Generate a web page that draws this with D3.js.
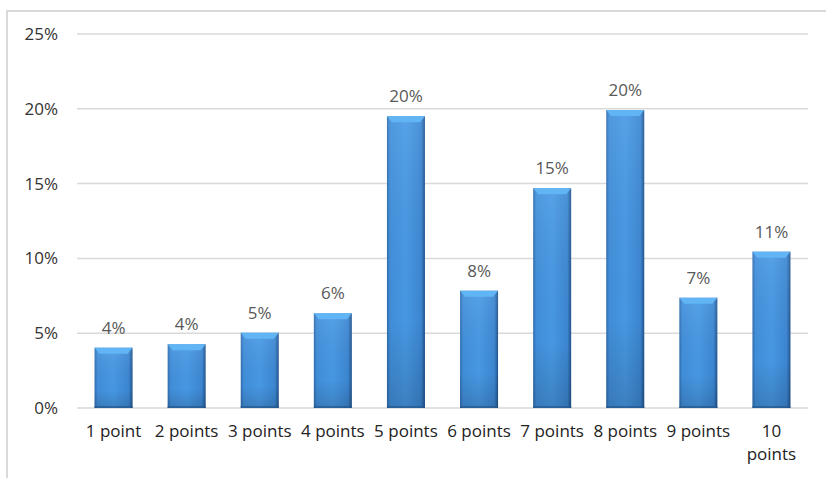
<!DOCTYPE html>
<html>
<head>
<meta charset="utf-8">
<script src="https://cdn.jsdelivr.net/npm/d3@7"></script>
<style>
  body { margin: 0; background: #fff; }
  svg { display: block; font-family: "Open Sans", sans-serif; }
</style>
</head>
<body>
<div class="barChart"></div>
<script>
var categories = ["1 point", "2 points", "3 points", "4 points", "5 points",
  "6 points", "7 points", "8 points", "9 points", "10 points"];
var values = [4.03, 4.26, 5.03, 6.33, 19.5, 7.84, 14.69, 19.92, 7.37, 10.45];
var labels = ["4%", "4%", "5%", "6%", "20%", "8%", "15%", "20%", "7%", "11%"];
var yTicks = [0, 5, 10, 15, 20, 25];

function init() {
  var w = 826;
  var h = 478;
  var left = 77, right = 808, top = 34, bottom = 408;

  var svg = d3.select(".barChart")
    .append("svg")
    .attr("width", w)
    .attr("height", h);

  // gradients for the bevelled bars
  var defs = svg.append("defs");
  var body = defs.append("linearGradient")
    .attr("id", "barBody")
    .attr("x1", 0).attr("y1", 0).attr("x2", 1).attr("y2", 0);
  body.append("stop").attr("offset", "0%").attr("stop-color", "#2f6db0");
  body.append("stop").attr("offset", "8%").attr("stop-color", "#4290dc");
  body.append("stop").attr("offset", "50%").attr("stop-color", "#489ae6");
  body.append("stop").attr("offset", "90%").attr("stop-color", "#3d88d4");
  body.append("stop").attr("offset", "100%").attr("stop-color", "#22558f");

  var shade = defs.append("linearGradient")
    .attr("id", "barShade")
    .attr("x1", 0).attr("y1", 0).attr("x2", 0).attr("y2", 1);
  shade.append("stop").attr("offset", "0%").attr("stop-color", "#ffffff").attr("stop-opacity", 0.08);
  shade.append("stop").attr("offset", "70%").attr("stop-color", "#000000").attr("stop-opacity", 0.02);
  shade.append("stop").attr("offset", "100%").attr("stop-color", "#000000").attr("stop-opacity", 0.16);

  // chart frame (only top and left edges fall inside the window)
  svg.append("rect")
    .attr("x", 7)
    .attr("y", 11)
    .attr("width", w + 20)
    .attr("height", h + 20)
    .attr("fill", "none")
    .attr("stroke", "#d9d9d9")
    .attr("stroke-width", 2);

  var xScale = d3.scaleBand()
    .domain(categories)
    .range([left, right])
    .paddingInner(0.48)
    .paddingOuter(0.24);

  var yScale = d3.scaleLinear()
    .domain([0, 25])
    .range([bottom, top]);

  // gridlines
  svg.append("g")
    .selectAll("line")
    .data(yTicks)
    .enter()
    .append("line")
    .attr("x1", left)
    .attr("x2", right)
    .attr("y1", function(d) { return yScale(d); })
    .attr("y2", function(d) { return yScale(d); })
    .attr("stroke", "#d9d9d9")
    .attr("stroke-width", 1.5);

  // y axis
  var yAxis = d3.axisLeft(yScale)
    .tickValues(yTicks)
    .tickSize(0)
    .tickPadding(0)
    .tickFormat(function(d) { return d + "%"; });

  var yG = svg.append("g")
    .attr("transform", "translate(58,0)")
    .call(yAxis);
  yG.select(".domain").remove();
  yG.selectAll("text")
    .attr("font-size", "17px")
    .attr("font-family", "Open Sans, sans-serif")
    .attr("fill", "#333333");

  // bars
  var bw = xScale.bandwidth();
  var bars = svg.append("g")
    .selectAll("g")
    .data(values)
    .enter()
    .append("g")
    .attr("transform", function(d, i) {
      return "translate(" + xScale(categories[i]) + "," + yScale(d) + ")";
    });

  bars.append("rect")
    .attr("width", bw)
    .attr("height", function(d) { return bottom - yScale(d); })
    .attr("fill", "url(#barBody)");

  bars.append("rect")
    .attr("width", bw)
    .attr("height", function(d) { return bottom - yScale(d); })
    .attr("fill", "url(#barShade)");

  // top bevel
  bars.append("path")
    .attr("d", "M0,0 L" + bw + ",0 L" + (bw - 5) + ",6 L5,6 Z")
    .attr("fill", "#62b5f4");

  // bottom edge
  bars.append("rect")
    .attr("y", function(d) { return bottom - yScale(d) - 2; })
    .attr("width", bw)
    .attr("height", 2)
    .attr("fill", "#24578f")
    .attr("opacity", 0.7);

  // data labels
  svg.append("g")
    .selectAll("text")
    .data(values)
    .enter()
    .append("text")
    .attr("x", function(d, i) { return xScale(categories[i]) + bw / 2; })
    .attr("y", function(d) { return yScale(d) - 14; })
    .attr("text-anchor", "middle")
    .attr("font-size", "17px")
    .attr("fill", "#595959")
    .text(function(d, i) { return labels[i]; });

  // x axis labels
  var xAxis = d3.axisBottom(xScale).tickSize(0).tickPadding(0);
  var xG = svg.append("g")
    .attr("transform", "translate(0," + (bottom + 17) + ")")
    .call(xAxis);
  xG.select(".domain").remove();
  xG.selectAll("text")
    .attr("font-size", "17px")
    .attr("font-family", "Open Sans, sans-serif")
    .attr("fill", "#222222")
    .each(function(d) {
      var t = d3.select(this);
      if (this.getComputedTextLength() > xScale.step()) {
        var words = d.split(" ");
        t.text(null);
        words.forEach(function(word, k) {
          t.append("tspan")
            .attr("x", 0)
            .attr("dy", k === 0 ? "0.71em" : "1.34em")
            .text(word);
        });
        t.attr("dy", null);
      }
    });
}

window.onload = init;
</script>
</body>
</html>
